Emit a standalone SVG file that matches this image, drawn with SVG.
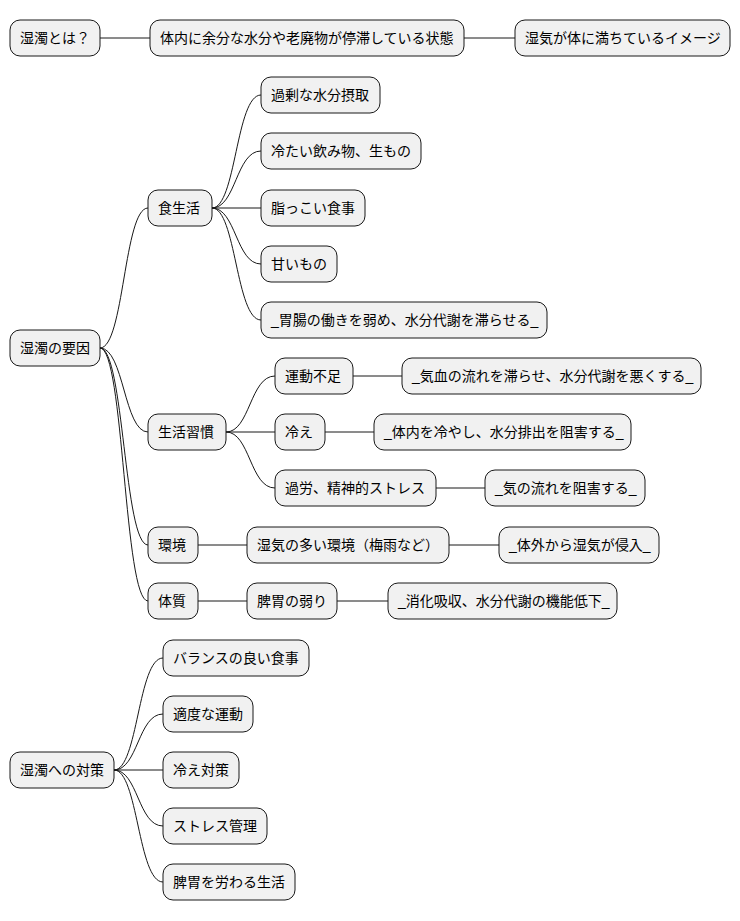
<svg xmlns="http://www.w3.org/2000/svg" width="740" height="921" viewBox="0 0 740 921">
<style>
.n rect{fill:#F1F1F1;stroke:#181818;stroke-width:1}
.n text{font-family:"Liberation Sans","Noto Sans CJK JP",sans-serif;font-size:14px;fill:#000}
#c path{fill:none;stroke:#181818;stroke-width:1}
</style>
<rect width="740" height="921" fill="#fff"/>
<g id="c">
<path d="M100,38 L150,38"/>
<path d="M464,38 L515,38"/>
<path d="M100,348 C124,348 124,208 148,208"/>
<path d="M100,348 C124,348 124,432 148,432"/>
<path d="M100,348 C124,348 124,545 148,545"/>
<path d="M100,348 C124,348 124,601 148,601"/>
<path d="M212,208 C236,208 236,95 261,95"/>
<path d="M212,208 C236,208 236,151 261,151"/>
<path d="M212,208 L261,208"/>
<path d="M212,208 C236,208 236,264 261,264"/>
<path d="M212,208 C236,208 236,320 261,320"/>
<path d="M226,432 C250,432 250,376 275,376"/>
<path d="M226,432 L275,432"/>
<path d="M226,432 C250,432 250,488 275,488"/>
<path d="M353,376 L402,376"/>
<path d="M325,432 L374,432"/>
<path d="M436,488 L485,488"/>
<path d="M198,545 L247,545"/>
<path d="M449,545 L499,545"/>
<path d="M198,601 L247,601"/>
<path d="M337,601 L388,601"/>
<path d="M114,770 C138,770 138,658 163,658"/>
<path d="M114,770 C138,770 138,714 163,714"/>
<path d="M114,770 L163,770"/>
<path d="M114,770 C138,770 138,826 163,826"/>
<path d="M114,770 C138,770 138,882 163,882"/>
</g>
<g id="n1" class="n"><rect x="10" y="20" width="90" height="36" rx="10"/><text x="20" y="43">湿濁とは？</text></g>
<g id="n2" class="n"><rect x="150" y="20" width="314" height="36" rx="10"/><text x="160" y="43">体内に余分な水分や老廃物が停滞している状態</text></g>
<g id="n3" class="n"><rect x="515" y="20" width="215" height="36" rx="10"/><text x="525" y="43">湿気が体に満ちているイメージ</text></g>
<g id="n4" class="n"><rect x="10" y="330" width="90" height="36" rx="10"/><text x="20" y="353">湿濁の要因</text></g>
<g id="n5" class="n"><rect x="148" y="190" width="64" height="36" rx="10"/><text x="158" y="213">食生活</text></g>
<g id="n6" class="n"><rect x="261" y="77" width="119" height="36" rx="10"/><text x="271" y="100">過剰な水分摂取</text></g>
<g id="n7" class="n"><rect x="261" y="133" width="160" height="36" rx="10"/><text x="271" y="156">冷たい飲み物、生もの</text></g>
<g id="n8" class="n"><rect x="261" y="190" width="104" height="36" rx="10"/><text x="271" y="213">脂っこい食事</text></g>
<g id="n9" class="n"><rect x="261" y="246" width="76" height="36" rx="10"/><text x="271" y="269">甘いもの</text></g>
<g id="n10" class="n"><rect x="261" y="302" width="286" height="36" rx="10"/><text x="271" y="325">_胃腸の働きを弱め、水分代謝を滞らせる_</text></g>
<g id="n11" class="n"><rect x="148" y="414" width="78" height="36" rx="10"/><text x="158" y="437">生活習慣</text></g>
<g id="n12" class="n"><rect x="275" y="358" width="78" height="36" rx="10"/><text x="285" y="381">運動不足</text></g>
<g id="n13" class="n"><rect x="402" y="358" width="299" height="36" rx="10"/><text x="412" y="381">_気血の流れを滞らせ、水分代謝を悪くする_</text></g>
<g id="n14" class="n"><rect x="275" y="414" width="50" height="36" rx="10"/><text x="285" y="437">冷え</text></g>
<g id="n15" class="n"><rect x="374" y="414" width="257" height="36" rx="10"/><text x="384" y="437">_体内を冷やし、水分排出を阻害する_</text></g>
<g id="n16" class="n"><rect x="275" y="470" width="161" height="36" rx="10"/><text x="285" y="493">過労、精神的ストレス</text></g>
<g id="n17" class="n"><rect x="485" y="470" width="160" height="36" rx="10"/><text x="495" y="493">_気の流れを阻害する_</text></g>
<g id="n18" class="n"><rect x="148" y="527" width="50" height="36" rx="10"/><text x="158" y="550">環境</text></g>
<g id="n19" class="n"><rect x="247" y="527" width="202" height="36" rx="10"/><text x="257" y="550">湿気の多い環境（梅雨など）</text></g>
<g id="n20" class="n"><rect x="499" y="527" width="160" height="36" rx="10"/><text x="509" y="550">_体外から湿気が侵入_</text></g>
<g id="n21" class="n"><rect x="148" y="583" width="50" height="36" rx="10"/><text x="158" y="606">体質</text></g>
<g id="n22" class="n"><rect x="247" y="583" width="90" height="36" rx="10"/><text x="257" y="606">脾胃の弱り</text></g>
<g id="n23" class="n"><rect x="388" y="583" width="229" height="36" rx="10"/><text x="398" y="606">_消化吸収、水分代謝の機能低下_</text></g>
<g id="n24" class="n"><rect x="10" y="752" width="104" height="36" rx="10"/><text x="20" y="775">湿濁への対策</text></g>
<g id="n25" class="n"><rect x="163" y="640" width="146" height="36" rx="10"/><text x="173" y="663">バランスの良い食事</text></g>
<g id="n26" class="n"><rect x="163" y="696" width="90" height="36" rx="10"/><text x="173" y="719">適度な運動</text></g>
<g id="n27" class="n"><rect x="163" y="752" width="76" height="36" rx="10"/><text x="173" y="775">冷え対策</text></g>
<g id="n28" class="n"><rect x="163" y="808" width="104" height="36" rx="10"/><text x="173" y="831">ストレス管理</text></g>
<g id="n29" class="n"><rect x="163" y="864" width="132" height="36" rx="10"/><text x="173" y="887">脾胃を労わる生活</text></g>
</svg>
